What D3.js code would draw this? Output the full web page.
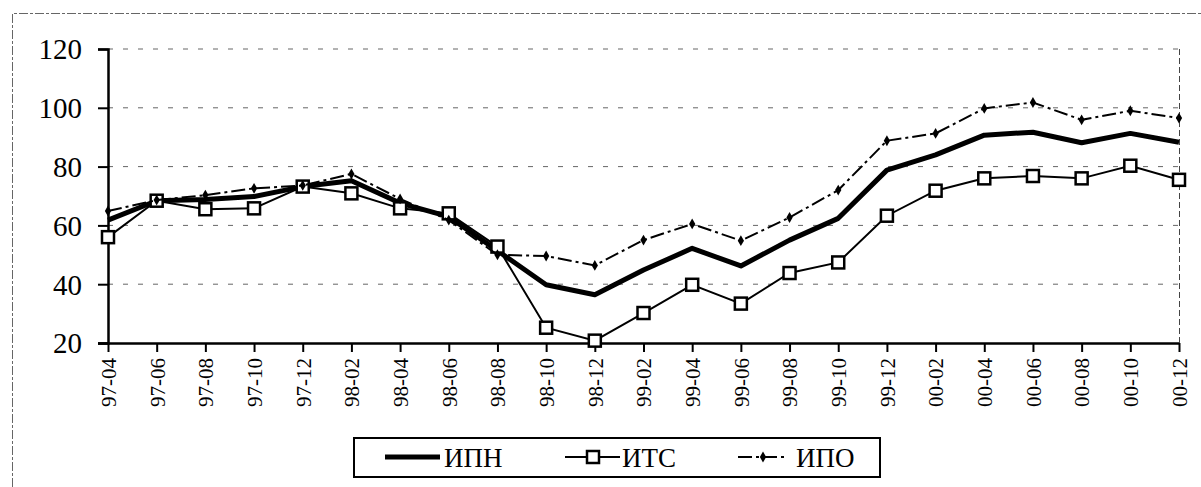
<!DOCTYPE html>
<html><head><meta charset="utf-8">
<script src="https://cdn.jsdelivr.net/npm/d3@7/dist/d3.min.js"></script>
<style>
html,body{margin:0;padding:0;background:#fff;}
svg{display:block;}
</style></head>
<body>
<svg id="chart" width="1201" height="487"></svg>
<script>
const categories = ["97-04","97-06","97-08","97-10","97-12","98-02","98-04","98-06","98-08","98-10","98-12","99-02","99-04","99-06","99-08","99-10","99-12","00-02","00-04","00-06","00-08","00-10","00-12"];
const ipn = [61.8,68.4,68.8,69.8,73.2,75.2,67.6,63,51.4,39.8,36.4,44.8,52.2,46.2,55,62.4,78.8,84,90.7,91.7,88.1,91.3,88.3];
const its = [56,68.4,65.5,65.8,73.2,70.9,65.8,64.1,52.8,25.2,20.8,30.2,39.8,33.4,43.8,47.4,63.3,71.8,76,76.8,76,80.3,75.5];
const ipo = [64.9,68.6,70.3,72.6,73.6,77.5,69,61.8,50,49.6,46.4,55,60.5,54.8,62.7,72,88.8,91.3,99.8,101.8,95.9,99,96.5];
const yTicks = [20,40,60,80,100,120];
const seriesNames = ["ИПН","ИТС","ИПО"];

const FONT = "Liberation Serif";
const svg = d3.select("#chart");
const L = 108, R = 1179, T = 49, B = 343;
const x = d3.scalePoint().domain(categories).range([L, R]);
const y = d3.scaleLinear().domain([20, 120]).range([B, T]);

// outer frame (faint, dashed like scanned border)
svg.append("path").attr("d", `M12.5,487 V13.5 H1201`)
  .attr("fill","none").attr("stroke","#666").attr("stroke-width",1).attr("stroke-dasharray","9,2,3,2");

// gridlines
svg.append("g").selectAll("line").data(yTicks.filter(d => d > 20)).join("line")
  .attr("x1", L).attr("x2", R).attr("y1", d => y(d)).attr("y2", d => y(d))
  .attr("stroke","#666").attr("stroke-width",1).attr("stroke-dasharray","5,10");

// right plot border (dashed)
svg.append("line").attr("x1", R+0.5).attr("x2", R+0.5).attr("y1", T).attr("y2", B)
  .attr("stroke","#444").attr("stroke-width",1).attr("stroke-dasharray","6,3");

// y axis
const yAxis = svg.append("g").attr("transform", `translate(${L},0)`)
  .call(d3.axisLeft(y).tickValues(yTicks).tickSize(10).tickPadding(16).tickFormat(d3.format("d")));
yAxis.attr("font-family", FONT).attr("font-size", 29);
yAxis.select(".domain").attr("stroke","#000").attr("stroke-width",2.5);
yAxis.selectAll(".tick line").attr("stroke","#000").attr("stroke-width",2);
yAxis.selectAll(".tick text").attr("fill","#000").attr("dy","0.34em");

// x axis
const xAxis = svg.append("g").attr("transform", `translate(0,${B})`)
  .call(d3.axisBottom(x).tickSize(9).tickSizeOuter(0));
xAxis.attr("font-family", FONT).attr("font-size", 21);
xAxis.select(".domain").attr("stroke","#000").attr("stroke-width",2.5).attr("d", `M${L-10},0.5H${R}`);
xAxis.selectAll(".tick line").attr("stroke","#000").attr("stroke-width",2);
xAxis.selectAll(".tick text")
  .attr("fill","#000")
  .attr("transform","rotate(-90)")
  .attr("text-anchor","end")
  .attr("x",-15).attr("y",0).attr("dy","0.35em");

const line = d3.line().x((d,i) => x(categories[i])).y(d => y(d));

// ИПН thick
svg.append("path").datum(ipn).attr("d", line)
  .attr("fill","none").attr("stroke","#000").attr("stroke-width",5).attr("stroke-linejoin","round");

// ИТС with squares
svg.append("path").datum(its).attr("d", line)
  .attr("fill","none").attr("stroke","#000").attr("stroke-width",2);
svg.append("g").selectAll("rect").data(its).join("rect")
  .attr("x",(d,i) => x(categories[i]) - 6).attr("y", d => y(d) - 6)
  .attr("width",12).attr("height",12)
  .attr("fill","#fff").attr("stroke","#000").attr("stroke-width",2.5);

// ИПО dash-dot with diamonds
svg.append("path").datum(ipo).attr("d", line)
  .attr("fill","none").attr("stroke","#000").attr("stroke-width",2).attr("stroke-dasharray","14,4,3,4");
const diamond = d3.symbol().type(d3.symbolDiamond).size(34);
svg.append("g").selectAll("path").data(ipo).join("path")
  .attr("d", diamond)
  .attr("transform",(d,i) => `translate(${x(categories[i])},${y(d)})`)
  .attr("fill","#000");

// legend
const lg = svg.append("g").attr("font-family", FONT).attr("font-size", 27);
lg.append("rect").attr("x",354).attr("y",438).attr("width",526).attr("height",39)
  .attr("fill","#fff").attr("stroke","#000").attr("stroke-width",2);
const ly = 457;
// ИПН
lg.append("line").attr("x1",385).attr("x2",440).attr("y1",ly).attr("y2",ly)
  .attr("stroke","#000").attr("stroke-width",5);
lg.append("text").attr("x",444).attr("y",ly).attr("dy","0.36em").attr("fill","#000").text(seriesNames[0]);
// ИТС
lg.append("line").attr("x1",565).attr("x2",620).attr("y1",ly).attr("y2",ly)
  .attr("stroke","#000").attr("stroke-width",2);
lg.append("rect").attr("x",587).attr("y",ly-6).attr("width",12).attr("height",12)
  .attr("fill","#fff").attr("stroke","#000").attr("stroke-width",2.5);
lg.append("text").attr("x",622).attr("y",ly).attr("dy","0.36em").attr("fill","#000").text(seriesNames[1]);
// ИПО
lg.append("line").attr("x1",738).attr("x2",788).attr("y1",ly).attr("y2",ly)
  .attr("stroke","#000").attr("stroke-width",2).attr("stroke-dasharray","14,4,3,4");
lg.append("path").attr("d", diamond).attr("transform",`translate(763,${ly})`).attr("fill","#000");
lg.append("text").attr("x",796).attr("y",ly).attr("dy","0.36em").attr("fill","#000").text(seriesNames[2]);
</script>
</body></html>
